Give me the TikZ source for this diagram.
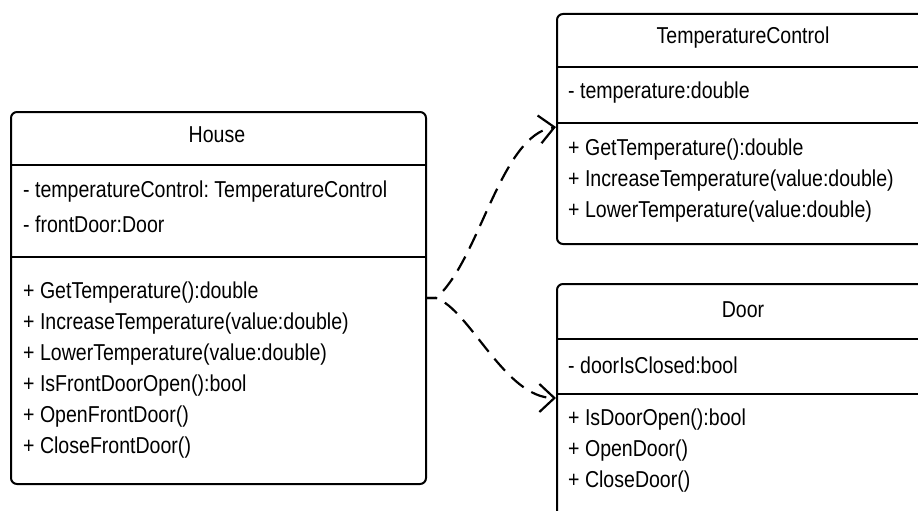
\documentclass[tikz,border=0pt]{standalone}
\usepackage{fontspec}
\setmainfont{Liberation Sans}[FakeStretch=0.85]
\usetikzlibrary{arrows.meta}
\begin{document}
\frenchspacing
\begin{tikzpicture}[x=1pt,y=-1pt,
  umlbox/.style={draw=black,line width=2pt,rounded corners=6pt,inner sep=0pt,anchor=north west},
  divider/.style={line width=2.4pt},
  txt/.style={anchor=west,inner sep=0pt,font=\fontsize{23}{27}\selectfont},
  title/.style={inner sep=0pt,font=\fontsize{23}{27}\selectfont},
  dep/.style={line width=2.2pt,dash pattern=on 16pt off 9pt,dash phase=6pt,-{Straight Barb[length=15pt,width=28pt,line width=2.2pt]}}]
\clip (0,0) rectangle (918,511);
\fill[white] (0,0) rectangle (918,511);
% House
\node[umlbox,minimum width=415pt,minimum height=372pt] (house) at (10,111) {};
\draw[divider] (house.west |- 0,165) -- (house.east |- 0,165);
\draw[divider] (house.west |- 0,257) -- (house.east |- 0,257);
\node[title] (houseT) at (217,135) {House};
\node[txt] (h1) at (23,192) {- temperatureControl: TemperatureControl};
\node[txt] (h2) at (23,224) {- frontDoor:Door};
\node[txt] (h3) at (23,293) {+ GetTemperature():double};
\node[txt] (h4) at (23,324) {+ IncreaseTemperature(value:double)};
\node[txt] (h5) at (23,355) {+ LowerTemperature(value:double)};
\node[txt] (h6) at (23,386) {+ IsFrontDoorOpen():bool};
\node[txt] (h7) at (23,417) {+ OpenFrontDoor()};
\node[txt] (h8) at (23,448) {+ CloseFrontDoor()};
% TemperatureControl
\node[umlbox,minimum width=380pt,minimum height=230pt] (tc) at (556,13) {};
\draw[divider] (tc.west |- 0,67) -- (tc.east |- 0,67);
\draw[divider] (tc.west |- 0,123) -- (tc.east |- 0,123);
\node[title] (tcT) at (743,38) {TemperatureControl};
\node[txt] (t1) at (568,93) {- temperature:double};
\node[txt] (t2) at (568,150) {+ GetTemperature():double};
\node[txt] (t3) at (568,181) {+ IncreaseTemperature(value:double)};
\node[txt] (t4) at (568,212) {+ LowerTemperature(value:double)};
% Door
\node[umlbox,minimum width=380pt,minimum height=260pt] (door) at (556,283) {};
\draw[divider] (door.west |- 0,339) -- (door.east |- 0,339);
\draw[divider] (door.west |- 0,394) -- (door.east |- 0,394);
\node[title] (doorT) at (743,310) {Door};
\node[txt] (d1) at (568,365) {- doorIsClosed:bool};
\node[txt] (d2) at (568,420) {+ IsDoorOpen():bool};
\node[txt] (d3) at (568,451) {+ OpenDoor()};
\node[txt] (d4) at (568,482) {+ CloseDoor()};
% dependencies
\coordinate (src) at (house.east |- 0,298);
\coordinate (tcin) at (tc.west |- 0,127);
\coordinate (doorin) at (door.west |- 0,398);
\draw[dep] (src) -- ++(9,0) .. controls (480,260) and (500,135) .. (tcin);
\draw[dep] (src) -- ++(9,0) .. controls (470,310) and (505,398) .. (doorin);
\end{tikzpicture}
\end{document}
